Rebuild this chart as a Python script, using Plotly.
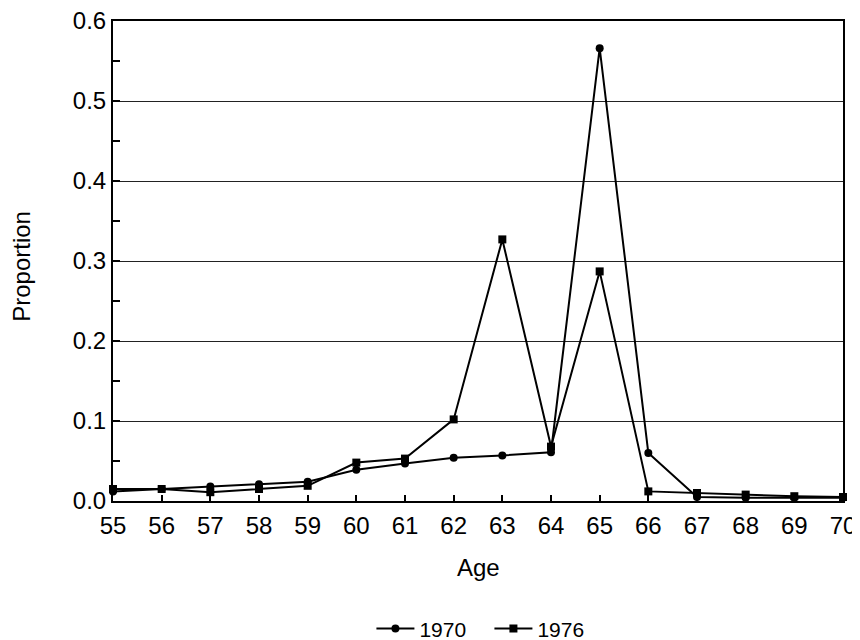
import plotly.graph_objects as go

ages = list(range(55, 71))
p1970 = [0.012, 0.015, 0.018, 0.021, 0.024, 0.039, 0.047, 0.054, 0.057, 0.061, 0.566, 0.060, 0.005, 0.004, 0.004, 0.004]
p1976 = [0.015, 0.015, 0.011, 0.015, 0.019, 0.048, 0.053, 0.102, 0.327, 0.068, 0.287, 0.012, 0.010, 0.008, 0.006, 0.005]
y_ticks = [0.0, 0.1, 0.2, 0.3, 0.4, 0.5, 0.6]

fig = go.Figure()
fig.add_trace(go.Scatter(x=ages, y=p1970, name="1970", mode="lines+markers",
                         line=dict(color="black", width=2),
                         marker=dict(symbol="circle", size=8, color="black"),
                         cliponaxis=False))
fig.add_trace(go.Scatter(x=ages, y=p1976, name="1976", mode="lines+markers",
                         line=dict(color="black", width=2),
                         marker=dict(symbol="square", size=8, color="black"),
                         cliponaxis=False))

fam = "Liberation Sans, Arial, sans-serif"
font = dict(family=fam, size=24, color="black")
fig.update_layout(
    width=860, height=640,
    paper_bgcolor="white", plot_bgcolor="white",
    margin=dict(l=105, r=25, t=13, b=147),
    font=font,
    showlegend=True,
    legend=dict(orientation="h", x=0.354, xanchor="left", xref="paper",
                y=0.03, yanchor="middle", yref="container",
                font=dict(family=fam, size=21, color="black"),
                tracegroupgap=0, itemwidth=38,
                entrywidth=65, entrywidthmode="pixels"),
    xaxis=dict(range=[55, 70], tickvals=ages, ticktext=[str(a) for a in ages],
               showgrid=False, zeroline=False, showline=True, linecolor="black", linewidth=2,
               mirror=True, ticks="inside", ticklen=6, tickcolor="black", tickwidth=1.5,
               ticklabelstandoff=2, ticklabeloverflow="allow", automargin=False, tickfont=font),
    yaxis=dict(range=[0, 0.6], tickvals=y_ticks, tickformat=".1f",
               showgrid=True, gridcolor="#222222", gridwidth=1, zeroline=False,
               showline=True, linecolor="black", linewidth=2, mirror=True,
               ticks="inside", ticklen=7, tickcolor="black", tickwidth=1.5,
               ticklabelstandoff=0, ticklabeloverflow="allow", automargin=False,
               minor=dict(dtick=0.05, ticks="inside", ticklen=7, tickcolor="black", tickwidth=1.5, showgrid=False),
               tickfont=font),
    annotations=[
        dict(text="Age", xref="paper", yref="paper", x=0.5, y=-0.1375,
             xanchor="center", yanchor="middle", showarrow=False, font=font),
        dict(text="Proportion", xref="paper", yref="paper", x=-0.1247, y=0.49,
             xanchor="center", yanchor="middle", textangle=-90, showarrow=False, font=font),
    ],
)
fig.write_html("out.html")
